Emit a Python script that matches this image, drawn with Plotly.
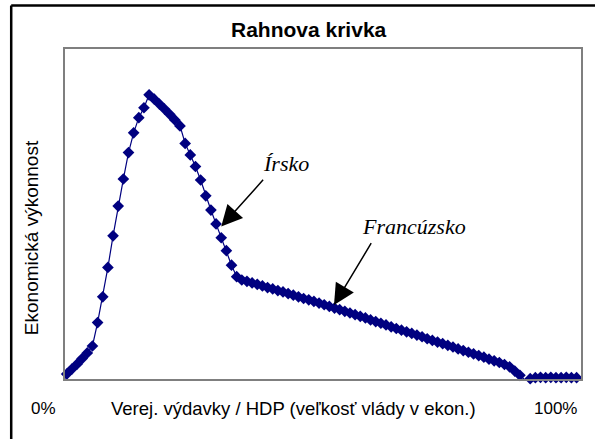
import plotly.graph_objects as go

# x: government spending share (%), y: economic performance
spending_pct = list(range(0, 101))
performance = [
    1.5, 3.0, 4.5, 6.2, 7.9, 10.0, 17.1, 24.9, 33.8, 43.4,
    52.4, 60.6, 68.6, 74.6, 79.2, 82.2, 86.1, 84.8, 83.3, 81.8,
    80.2, 78.5, 76.7, 71.4, 67.9, 64.4, 60.3, 55.5, 51.2, 47.0,
    42.8, 38.9, 34.5, 31.0, 30.0, 29.6, 29.1, 28.7, 28.2, 27.7,
    27.3, 26.8, 26.4, 25.9, 25.4, 24.9, 24.4, 24.0, 23.5, 23.0,
    22.5, 22.0, 21.5, 21.0, 20.5, 20.0, 19.5, 19.0, 18.5, 17.9,
    17.4, 16.9, 16.4, 15.8, 15.3, 14.8, 14.3, 13.8, 13.3, 12.8,
    12.2, 11.7, 11.2, 10.7, 10.2, 9.7, 9.1, 8.6, 8.1, 7.6,
    7.1, 6.6, 6.0, 5.5, 5.0, 4.4, 3.7, 2.4, 1.1, -0.3,
    0.1, 0.4, 0.5, 0.4, 0.5, 0.4, 0.4, 0.5, 0.4, 0.4,
    0.3,
]

title_text = "Rahnova krivka"
x_title = "Verej. výdavky / HDP (veľkosť vlády v ekon.)"
y_title = "Ekonomická výkonnost"
x_left_label = "0%"
x_right_label = "100%"
label_ireland = "Írsko"
label_france = "Francúzsko"

NAVY = "#000080"
SANS = "Liberation Sans, Arial, sans-serif"
SERIF = "Liberation Serif, Times New Roman, serif"

fig = go.Figure()
fig.add_trace(go.Scatter(
    x=spending_pct, y=performance, mode="lines+markers",
    line=dict(color=NAVY, width=1.2),
    marker=dict(symbol="diamond", size=9, color=NAVY),
    cliponaxis=False, showlegend=False, hoverinfo="skip",
))

W, H = 595, 439
L, T, R, B = 65, 49, 595 - 583, 439 - 379
pw, ph = W - L - R, H - T - B

def px2paper(px, py):
    return (px - L) / pw, (H - B - py) / ph

annotations = []
def add_text(text, px, py, size, family=SANS, angle=0, bold=False):
    ax_, ay_ = px2paper(px, py)
    annotations.append(dict(
        text=("<b>%s</b>" % text) if bold else text,
        x=ax_, y=ay_, xref="paper", yref="paper",
        xanchor="center", yanchor="middle", showarrow=False,
        textangle=angle, font=dict(family=family, size=size, color="black"),
    ))

add_text(title_text, 310, 30, 21, bold=True)
add_text(x_left_label, 43, 408, 17)
add_text(x_right_label, 557, 408, 17)
add_text(x_title, 294, 408, 18.5)
add_text(y_title, 31, 238, 19, angle=-90)

# italic labels in data coordinates
annotations.append(dict(text="<i>%s</i>" % label_ireland, x=42.6, y=65.2,
                        xref="x", yref="y", showarrow=False,
                        font=dict(family=SERIF, size=22, color="black")))
annotations.append(dict(text="<i>%s</i>" % label_france, x=67.4, y=46.1,
                        xref="x", yref="y", showarrow=False,
                        font=dict(family=SERIF, size=22, color="black")))
# arrows
for (tx, ty, sx, sy) in [(30.0, 46.2, 38.4, 60.8), (51.9, 22.4, 59.3, 41.6)]:
    annotations.append(dict(text="", x=tx, y=ty, ax=sx, ay=sy,
                            xref="x", yref="y", axref="x", ayref="y",
                            showarrow=True, arrowhead=2, arrowsize=2.8,
                            arrowwidth=1.5, arrowcolor="black", standoff=0))

fx0, fy0 = px2paper(11, 5.5)
fx1, fy1 = px2paper(620, 460)
shapes = [
    dict(type="line", xref="paper", yref="paper", x0=fx0, y0=fy0, x1=fx1, y1=fy0,
         line=dict(color="black", width=2.5)),
    dict(type="line", xref="paper", yref="paper", x0=fx0, y0=fy0, x1=fx0, y1=fy1,
         line=dict(color="black", width=2.5)),
]

fig.update_layout(
    width=W, height=H, margin=dict(l=L, r=R, t=T, b=B, pad=0),
    paper_bgcolor="white", plot_bgcolor="white",
    annotations=annotations, shapes=shapes, hovermode=False,
    xaxis=dict(range=[-0.33, 99.86], showgrid=False, zeroline=False,
               showticklabels=False, ticks="", showline=True, mirror=True,
               linecolor="#7f7f7f", linewidth=1.5),
    yaxis=dict(range=[0, 100], showgrid=False, zeroline=False,
               showticklabels=False, ticks="", showline=True, mirror=True,
               linecolor="#7f7f7f", linewidth=1.5),
)

# remove the default 8px page margin so the figure sits at the window origin
fig.write_html("out.html", config={"displayModeBar": False},
               post_script="document.body.style.margin='0';document.body.style.overflow='hidden';")
